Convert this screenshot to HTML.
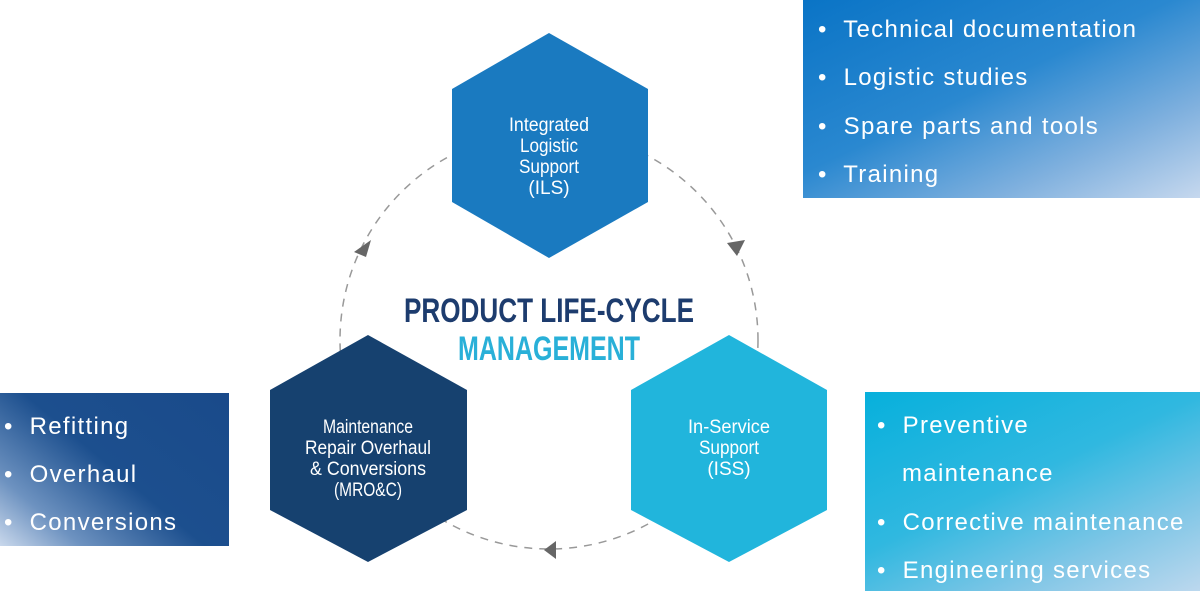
<!DOCTYPE html>
<html><head><meta charset="utf-8"><style>
body{margin:0;width:1200px;height:591px;background:#fff;position:relative;overflow:hidden;font-family:"Liberation Sans",sans-serif}
.box{position:absolute;color:#fff;font-size:24px;letter-spacing:1.3px}
.box div{position:absolute;white-space:nowrap}
.hx{font-family:"Liberation Sans Narrow","Liberation Sans",sans-serif;fill:#fff;font-size:19px;text-anchor:middle}
</style></head><body>
<svg width="1200" height="591" style="position:absolute;left:0;top:0">
<circle cx="549" cy="340" r="209" fill="none" stroke="#999" stroke-width="1.5" stroke-dasharray="8,7"/>
<polygon points="549,33 648,89 648,202 549,258 452,202 452,89" fill="#1a7ac0"/>
<polygon points="368,335 467,390 467,510 368,562 270,510 270,390" fill="#16416f"/>
<polygon points="729,335 827,390 827,510 729,562 631,510 631,390" fill="#21b5dc"/>
<polygon points="354,252 371,240 366,257" fill="#666"/>
<polygon points="727,243 745,240 737,256" fill="#666"/>
<polygon points="544,550 556,541 556,559" fill="#666"/>
<g class="hx">
<text x="549" y="131" textLength="80" lengthAdjust="spacingAndGlyphs">Integrated</text><text x="549" y="152" textLength="58" lengthAdjust="spacingAndGlyphs">Logistic</text><text x="549" y="173" textLength="60" lengthAdjust="spacingAndGlyphs">Support</text><text x="549" y="194">(ILS)</text>
<text x="368" y="433" textLength="90" lengthAdjust="spacingAndGlyphs">Maintenance</text><text x="368" y="454" textLength="126" lengthAdjust="spacingAndGlyphs">Repair Overhaul</text><text x="368" y="475" textLength="116" lengthAdjust="spacingAndGlyphs">&amp; Conversions</text><text x="368" y="496" textLength="68" lengthAdjust="spacingAndGlyphs">(MRO&amp;C)</text>
<text x="729" y="433" textLength="82" lengthAdjust="spacingAndGlyphs">In-Service</text><text x="729" y="454" textLength="60" lengthAdjust="spacingAndGlyphs">Support</text><text x="729" y="475">(ISS)</text>
</g>
<g font-family="'Liberation Sans Narrow','Liberation Sans',sans-serif" font-weight="bold" text-anchor="middle">
<text x="549" y="322" font-size="34" fill="#1d3c6e" textLength="290" lengthAdjust="spacingAndGlyphs">PRODUCT LIFE-CYCLE</text>
<text x="549" y="360" font-size="34" fill="#29b0d8" textLength="182" lengthAdjust="spacingAndGlyphs">MANAGEMENT</text>
</g>
</svg>
<div class="box" style="left:803px;top:0;width:397px;height:198px;background:linear-gradient(155deg,#0a74c6 0%,#2a88d0 45%,#7fb0de 75%,#c6d8ee 100%)">
<div style="left:15px;top:16px">•&nbsp; Technical documentation</div>
<div style="left:15px;top:64px">•&nbsp; Logistic studies</div>
<div style="left:15px;top:113px">•&nbsp; Spare parts and tools</div>
<div style="left:15px;top:161px">•&nbsp; Training</div>
</div>
<div class="box" style="left:0;top:393px;width:229px;height:153px;background:linear-gradient(220deg,#1a4a8a 0%,#1c4f8e 50%,#6d92c0 80%,#c9d8ec 100%)">
<div style="left:4px;top:20px">•&nbsp; Refitting</div>
<div style="left:4px;top:68px">•&nbsp; Overhaul</div>
<div style="left:4px;top:116px">•&nbsp; Conversions</div>
</div>
<div class="box" style="left:865px;top:392px;width:335px;height:199px;background:linear-gradient(155deg,#07b0dc 0%,#30b8e0 45%,#80c6e6 75%,#bcd8ee 100%)">
<div style="left:12px;top:20px">•&nbsp; Preventive</div>
<div style="left:37px;top:68px">maintenance</div>
<div style="left:12px;top:117px">•&nbsp; Corrective maintenance</div>
<div style="left:12px;top:165px">•&nbsp; Engineering services</div>
</div>
</body></html>
